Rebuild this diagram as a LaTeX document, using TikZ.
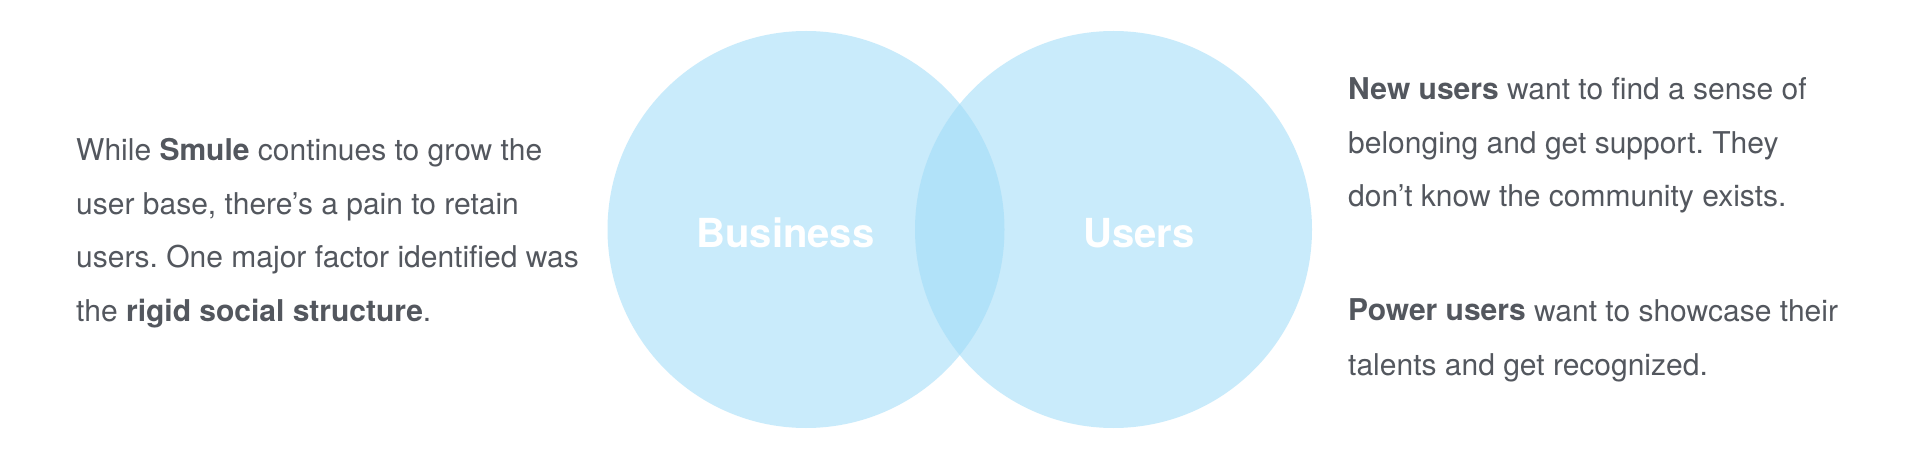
\documentclass[tikz,border=0pt]{standalone}
\usepackage{fontspec}
\setmainfont{TeX Gyre Heros}
\frenchspacing
\definecolor{ink}{HTML}{53575E}
\definecolor{sky}{HTML}{9EDBF8}
\tikzset{
  venn/.style={circle,fill=sky,fill opacity=0.55,minimum size=397pt,inner sep=0pt},
  setlab/.style={font=\bfseries\fontsize{40}{48}\selectfont,text=white,anchor=base,inner sep=0pt},
  txt/.style={font=\fontsize{30}{36}\selectfont,text=ink,anchor=base west,inner sep=0pt}
}

\begin{document}
\begin{tikzpicture}[x=1pt,y=1pt]
\fill[white] (0,0) rectangle (1920,464);
\useasboundingbox (0,0) rectangle (1920,464);
% ================= the two sets =================
\node[venn] (biz) at (806,234.5) {};
\node[venn] (usr) at (1113.5,234.5) {};
\node[setlab] (bizlab) at (785.5,216) {Business};
\node[setlab] (usrlab) at (1139,216) {Users};
% ================= left: the problem =================
\node[txt] (l1) at (76,303) {While \textbf{Smule} continues to grow the};
\node[txt] (l2) at (76,249.5) {user base, there’s a pain to retain};
\node[txt] (l3) at (76,196) {users. One major factor identified was};
\node[txt] (l4) at (76,142.5) {the \textbf{rigid social structure}.};
% ================= right: the two kinds of users =================
\node[txt] (r1) at (1348,364) {\textbf{New users} want to find a sense of};
\node[txt] (r2) at (1348,310.5) {belonging and get support. They};
\node[txt] (r3) at (1348,257) {don’t know the community exists.};
\node[txt] (r4) at (1348,143) {\textbf{Power users} want to showcase their};
\node[txt] (r5) at (1348,89) {talents and get recognized.};
\end{tikzpicture}
\end{document}
